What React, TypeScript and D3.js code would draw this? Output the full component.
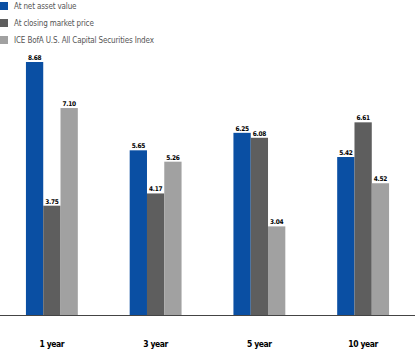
import React from "react";
import * as d3 from "d3";

const categories = ["1 year", "3 year", "5 year", "10 year"];
const seriesNames = [
  "At net asset value",
  "At closing market price",
  "ICE BofA U.S. All Capital Securities Index",
];
const navValues = [8.68, 5.65, 6.25, 5.42];
const marketValues = [3.75, 4.17, 6.08, 6.61];
const indexValues = [7.1, 5.26, 3.04, 4.52];
const colors = ["#0a4fa3", "#5e5e5e", "#a1a1a1"];

const W = 415;
const H = 363;
const baseY = 315;
const topY = 62;

export default function App() {
  const series = [navValues, marketValues, indexValues];
  const x0 = d3.scaleBand<string>().domain(categories).range([0, W]).paddingInner(0.5).paddingOuter(0.25);
  const x1 = d3.scaleBand<number>().domain([0, 1, 2]).range([0, x0.bandwidth()]);
  const y = d3.scaleLinear().domain([0, 8.68]).range([baseY, topY]);
  const font = "'DejaVu Sans Condensed', 'Liberation Sans Narrow', 'Liberation Sans', sans-serif";

  return (
    <svg width={W} height={H} style={{ position: "absolute", left: 0, top: 0, background: "#fff" }}>
      {seriesNames.map((name, i) => (
        <g key={name} transform={`translate(0, ${2 + i * 17})`}>
          <rect x={0} y={0} width={8} height={8} fill={colors[i]} />
          <text x={14} y={7} fontSize={8} fill="#555" fontFamily={font} letterSpacing={-0.15}>
            {name}
          </text>
        </g>
      ))}
      {categories.map((c, ci) => (
        <g key={c} transform={`translate(${x0(c)}, 0)`}>
          {series.map((s, si) => {
            const v = s[ci];
            const bx = x1(si) as number;
            const bw = x1.bandwidth();
            return (
              <g key={si}>
                <rect x={bx} y={y(v)} width={bw} height={baseY - y(v)} fill={colors[si]} />
                <text
                  x={bx + bw / 2}
                  y={y(v) - 2}
                  textAnchor="middle"
                  fontSize={6.5}
                  fontWeight="bold"
                  fill="#000"
                  fontFamily={font}
                  letterSpacing={-0.3}
                >
                  {v.toFixed(2)}
                </text>
              </g>
            );
          })}
          <text
            x={x0.bandwidth() / 2}
            y={347}
            textAnchor="middle"
            fontSize={8.5}
            fontWeight="bold"
            fill="#000"
            fontFamily={font}
            letterSpacing={-0.4}
          >
            {c}
          </text>
        </g>
      ))}
      <line x1={0} x2={W} y1={baseY + 0.5} y2={baseY + 0.5} stroke="#444" strokeWidth={1} />
    </svg>
  );
}
